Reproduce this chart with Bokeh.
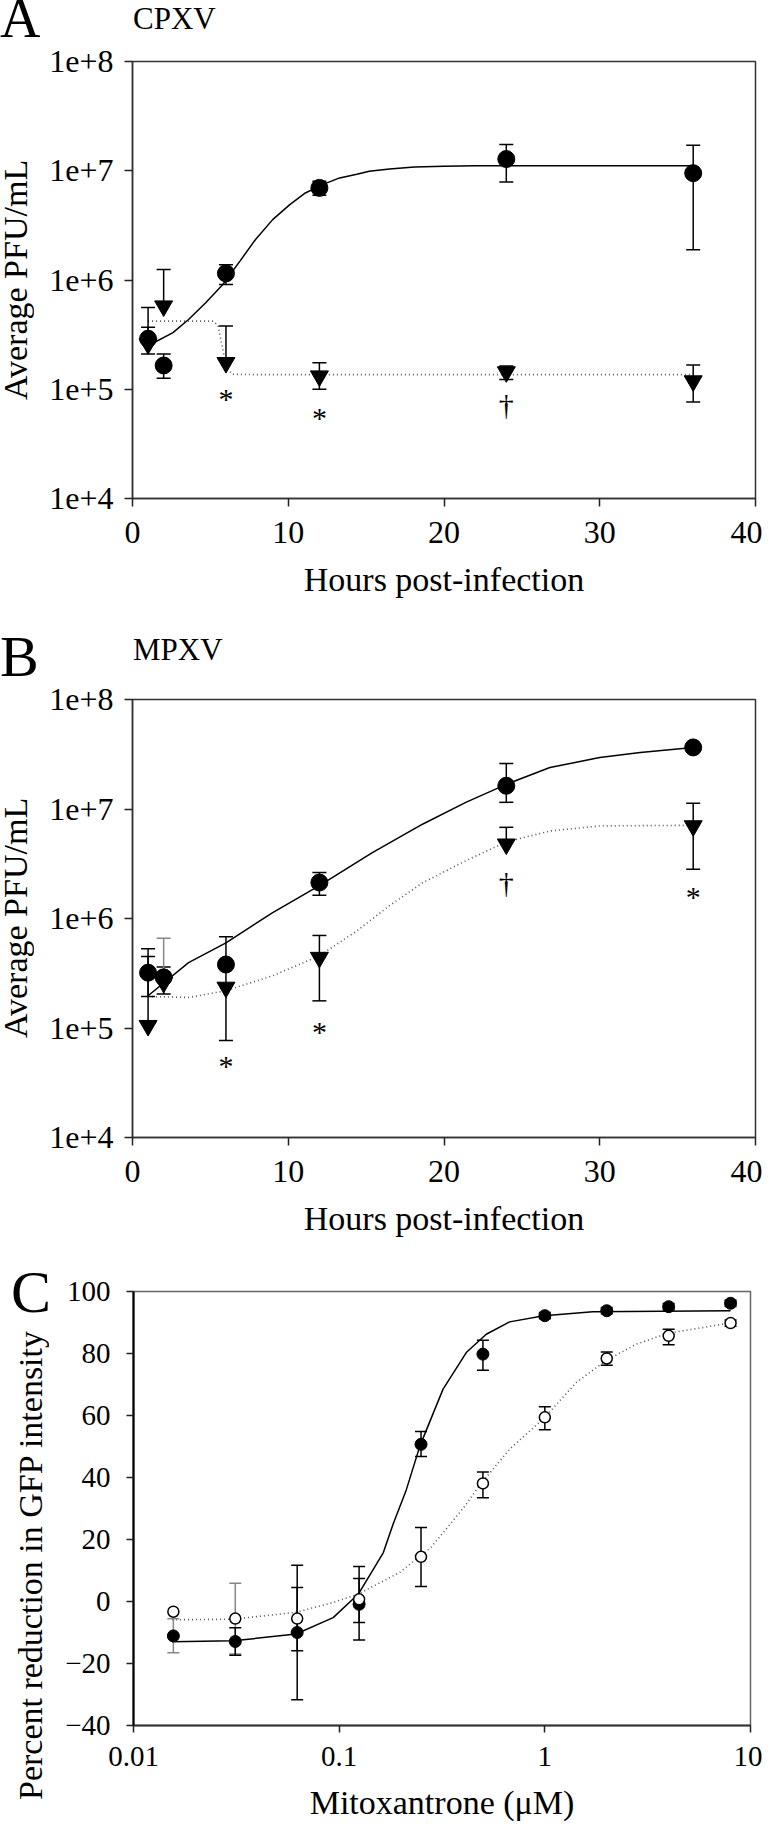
from bokeh.plotting import figure
from bokeh.layouts import column, row
from bokeh.models import FixedTicker, CustomJSTickFormatter, Range1d, Div
from bokeh.core.properties import value
from bokeh.embed import file_html
from bokeh.resources import INLINE

SERIF = "Liberation Serif"

# ---------------- Panel A : CPXV ----------------
hours = [1, 2, 6, 12, 24, 36]
a_ctrl = [2.9e5, 1.65e5, 1.15e6, 6.97e6, 1.28e7, 9.5e6]
a_ctrl_hi = [5.6e5, 2.1e5, 1.38e6, 8.0e6, 1.74e7, 1.71e7]
a_ctrl_lo = [2.1e5, 1.26e5, 9.1e5, 5.96e6, 7.9e6, 1.89e6]
a_trt = [2.6e5, 5.77e5, 1.75e5, 1.32e5, 1.44e5, 1.19e5]
a_trt_hi = [3.7e5, 1.25e6, 3.8e5, 1.75e5, 1.63e5, 1.67e5]
a_trt_lo = [2.6e5, 5.77e5, 1.75e5, 1.0e5, 1.23e5, 7.65e4]
a_fit_ctrl_t = [1, 2.6, 3.6, 4.7, 5.8, 6.9, 7.9, 9.0, 10.1, 11.1, 12.2, 13.3, 14.4, 15.2, 16.5, 18.1, 20, 22, 26, 30, 36]
a_fit_ctrl_v = [2.5e5, 3.3e5, 4.35e5, 6.2e5, 9.1e5, 1.49e6, 2.35e6, 3.57e6, 4.9e6, 6.26e6, 7.46e6,
                8.6e6, 9.3e6, 9.9e6, 1.04e7, 1.08e7, 1.10e7, 1.11e7, 1.11e7, 1.11e7, 1.11e7]
a_fit_trt_t = [1, 5.2, 5.5, 5.75, 6.0, 6.4, 8, 36]
a_fit_trt_v = [4.2e5, 4.2e5, 3.8e5, 2.5e5, 1.63e5, 1.37e5, 1.36e5, 1.36e5]
a_sig_t = [6, 12, 24]
a_sig_v = [9.3e4, 6.2e4, 7.2e4]
a_sig_txt = ["*", "*", "\u2020"]

# ---------------- Panel B : MPXV ----------------
b_ctrl = [3.2e5, 2.9e5, 3.8e5, 2.13e6, 1.63e7, 3.65e7]
b_ctrl_hi = [5.3e5, 6.6e5, 6.8e5, 2.63e6, 2.6e7, 3.9e7]
b_ctrl_lo = [1.94e5, 2.9e5, 7.7e4, 1.63e6, 1.15e7, 3.4e7]
b_trt = [1.05e5, 2.6e5, 2.35e5, 4.4e5, 4.77e6, 7.0e6]
b_trt_hi = [4.5e5, 3.6e5, 2.35e5, 7.0e5, 6.8e6, 1.13e7]
b_trt_lo = [1.05e5, 2.04e5, 2.35e5, 1.77e5, 4.77e6, 2.82e6]
b_fit_ctrl_t = [1, 3.6, 6, 9, 12, 15.4, 18.65, 21.4, 24, 26.8, 30, 32.6, 36]
b_fit_ctrl_v = [1.97e5, 3.96e5, 6.0e5, 1.13e6, 2.0e6, 4.0e6, 7.3e6, 1.15e7, 1.68e7, 2.39e7, 2.95e7, 3.28e7, 3.65e7]
b_fit_trt_t = [1, 3.6, 6, 9, 12, 14.4, 16.5, 18.65, 21.4, 24, 26.8, 30, 36]
b_fit_trt_v = [1.94e5, 1.9e5, 2.19e5, 3.0e5, 4.56e5, 7.7e5, 1.31e6, 2.13e6, 3.37e6, 5.0e6, 6.3e6, 7.0e6, 7.1e6]
b_sig_t = [6, 12, 24, 36]
b_sig_v = [5.2e4, 1.05e5, 2.14e6, 1.79e6]
b_sig_txt = ["*", "*", "\u2020", "*"]

# ---------------- Panel C : Mitoxantrone ----------------
conc = [0.015625, 0.03125, 0.0625, 0.125, 0.25, 0.5, 1, 2, 4, 8]
c_fill = [-11.1, -12.9, -10.0, -0.9, 50.7, 79.8, 92.2, 93.8, 95.1, 96.2]
c_fill_hi = [-5.6, -8.5, 4.5, 11.3, 54.8, 84.3, 93.2, 94.8, 96.1, 97.2]
c_fill_lo = [-16.5, -17.3, -31.7, -12.4, 46.8, 74.6, 91.2, 92.8, 94.1, 95.2]
c_open = [-3.3, -5.5, -5.5, 0.7, 14.4, 38.1, 59.4, 78.4, 85.7, 89.8]
c_open_hi = [-3.3, 5.9, 11.7, 7.4, 23.9, 41.8, 62.8, 80.5, 87.8, 90.8]
c_open_lo = [-3.3, -16.9, -15.9, -6.8, 4.8, 33.5, 55.4, 76.2, 82.8, 88.8]
c_fit_fill_x = [0.0154, 0.0305, 0.0617, 0.0935, 0.124, 0.164, 0.183, 0.212, 0.247, 0.320, 0.415, 0.519, 0.674, 0.989, 1.71, 8.0]
c_fit_fill_y = [-13.0, -12.7, -10.5, -5.2, 2.4, 15.8, 25.0, 36.0, 50.2, 68.5, 80.3, 86.2, 90.2, 92.2, 93.5, 93.8]
c_fit_open_x = [0.0154, 0.0305, 0.0617, 0.0935, 0.124, 0.197, 0.28, 0.40, 0.494, 0.674, 1.0, 1.42, 1.97, 2.78, 3.95, 7.89]
c_fit_open_y = [-5.9, -5.7, -3.5, -0.3, 2.4, 9.4, 17.5, 30.0, 38.4, 49.1, 59.4, 70.6, 77.6, 83.0, 86.5, 89.8]


# ---------- text holders (HTML text, placed beside / above the plots) ----------
def span(text, left, top, size, lh):
    return ('<span style="position:absolute;left:%dpx;top:%dpx;font-family:\'Liberation Serif\';'
            'font-size:%dpx;line-height:%s;white-space:nowrap;color:#000;">%s</span>'
            % (left, top, size, lh, text))


def vspan(text, cx, cy, size, h):
    w = int(round(0.9 * size))
    return ('<span style="position:absolute;display:block;left:%dpx;top:%dpx;width:%dpx;height:%dpx;'
            'writing-mode:vertical-rl;transform:rotate(180deg);text-align:center;'
            'font-family:\'Liberation Serif\';font-size:%dpx;line-height:0.9;'
            'white-space:nowrap;color:#000;">%s</span>'
            % (cx - w // 2, cy - h // 2, w, h, size, text))


def holder(w, h, parts):
    html = '<div style="position:relative;width:%dpx;height:%dpx;">%s</div>' % (w, h, "".join(parts))
    return Div(text=html, width=w, height=h, margin=0, styles={"overflow": "visible"})


def errorbars(p, x, val, hi, lo, cap, color="black"):
    colors = color if isinstance(color, list) else [color] * len(x)
    p.segment(x0=x, y0=lo, x1=x, y1=hi, line_color=colors, line_width=1.5)
    cx, cy, cc = [], [], []
    for xi, v, h, l, c in zip(x, val, hi, lo, colors):
        if h != v:
            cx.append(xi); cy.append(h); cc.append(c)
        if l != v:
            cx.append(xi); cy.append(l); cc.append(c)
    p.scatter(cx, cy, marker="dash", size=cap, line_color=cc, line_width=1.5)


def style_axes(p, tick_size, tick_out, xstand, ystand, xlab_stand):
    p.xgrid.visible = False
    p.ygrid.visible = False
    for ax in (p.xaxis[0], p.yaxis[0]):
        ax.major_tick_in = 0
        ax.major_tick_out = tick_out
        ax.minor_tick_line_color = None
        ax.major_label_text_font = SERIF
        ax.major_label_text_font_size = tick_size
        ax.major_label_text_color = "black"
        ax.major_tick_line_color = "#222222"
        ax.major_tick_line_width = 1.5
        ax.axis_label_text_font = SERIF
        ax.axis_label_text_font_size = "34px"
        ax.axis_label_text_font_style = "normal"
        ax.axis_label_text_color = "black"
    p.xaxis[0].major_label_standoff = xstand
    p.yaxis[0].major_label_standoff = ystand
    p.xaxis[0].axis_label_standoff = xlab_stand


def time_panel(height, btop, bbottom,
               ctrl, ctrl_hi, ctrl_lo, trt, trt_hi, trt_lo,
               fct, fcv, ftt, ftv, sig_t, sig_v, sig_txt, ctrl_err_color="black"):
    p = figure(width=716, height=height, x_range=Range1d(0, 40), y_range=Range1d(1e4, 1e8),
               y_axis_type="log", output_backend="svg", toolbar_location=None, title=None,
               min_border_left=86, min_border_right=7, min_border_top=btop,
               min_border_bottom=bbottom, background_fill_color="white",
               border_fill_color="white", outline_line_color="#333333", outline_line_width=1.5)
    style_axes(p, "32px", 8, 15, 11, 15)
    p.xaxis.axis_label = "Hours post-infection"
    p.xaxis.ticker = FixedTicker(ticks=[0, 10, 20, 30, 40])
    p.yaxis.ticker = FixedTicker(ticks=[1e4, 1e5, 1e6, 1e7, 1e8])
    p.yaxis.formatter = CustomJSTickFormatter(code="return '1e+' + Math.round(Math.log10(tick));")
    p.xaxis.axis_line_color = "#333333"
    p.yaxis.axis_line_color = "#333333"
    p.xaxis.axis_line_width = 1.5
    p.yaxis.axis_line_width = 1.5

    p.line(fct, fcv, line_color="black", line_width=1.5)
    p.line(ftt, ftv, line_color="#555555", line_width=1.6, line_dash="1 3")
    errorbars(p, hours, trt, trt_hi, trt_lo, 14)
    errorbars(p, hours, ctrl, ctrl_hi, ctrl_lo, 14, ctrl_err_color)
    p.scatter(hours, trt, marker="inverted_triangle", size=18, fill_color="black", line_color="black")
    p.scatter(hours, ctrl, marker="circle", size=17, fill_color="black", line_color="black")
    # asterisks sit high in the em box: nudge them down so the glyph centres on its value
    offs = [6 if s == "*" else 0 for s in sig_txt]
    p.text(sig_t, sig_v, text=sig_txt, y_offset=offs, text_font=value(SERIF), text_font_size="30px",
           text_align="center", text_baseline="middle", text_color="black")
    return p


# ----- Panel A -----
hA = holder(762, 41, [span("A", 0, 0, 56, 0.66), span("CPXV", 133, 3, 31, 1)])
lA = holder(46, 591, [vspan("Average PFU/mL", 16, 239, 34, 300)])
pA = time_panel(591, 20, 134,
                a_ctrl, a_ctrl_hi, a_ctrl_lo, a_trt, a_trt_hi, a_trt_lo,
                a_fit_ctrl_t, a_fit_ctrl_v, a_fit_trt_t, a_fit_trt_v,
                a_sig_t, a_sig_v, a_sig_txt)

# ----- Panel B -----
hB = holder(762, 48, [span("B", 0, 2, 58, 0.8), span("MPXV", 133, 2, 31, 1)])
lB = holder(46, 574, [vspan("Average PFU/mL", 16, 238, 34, 300)])
b_err_col = ["black", "#888888", "black", "black", "black", "black"]
pB = time_panel(574, 19, 117,
                b_ctrl, b_ctrl_hi, b_ctrl_lo, b_trt, b_trt_hi, b_trt_lo,
                b_fit_ctrl_t, b_fit_ctrl_v, b_fit_trt_t, b_fit_trt_v,
                b_sig_t, b_sig_v, b_sig_txt, ctrl_err_color=b_err_col)

# ----- Panel C -----
lC = holder(62, 577, [span("C", 11, 8, 60, 1),
                      vspan("Percent reduction in GFP intensity", 31, 311, 34, 500)])

pC = figure(width=700, height=577, x_range=Range1d(0.01, 10), y_range=Range1d(-40, 100),
            x_axis_type="log", output_backend="svg", toolbar_location=None, title=None,
            min_border_left=70, min_border_right=12, min_border_top=37, min_border_bottom=106,
            background_fill_color="white", border_fill_color="white",
            outline_line_color="#666666", outline_line_width=1.5)
style_axes(pC, "29px", 7, 14, 16, 15)
pC.xaxis.axis_label = "Mitoxantrone (\u03bcM)"
pC.xaxis.ticker = FixedTicker(ticks=[0.01, 0.1, 1, 10])
pC.xaxis.formatter = CustomJSTickFormatter(code="return String(tick);")
pC.yaxis.ticker = FixedTicker(ticks=[-40, -20, 0, 20, 40, 60, 80, 100])
pC.yaxis.axis_line_color = "black"
pC.yaxis.axis_line_width = 2.2
pC.xaxis.axis_line_color = "#333333"
pC.xaxis.axis_line_width = 2

pC.line(c_fit_fill_x, c_fit_fill_y, line_color="black", line_width=1.5)
pC.line(c_fit_open_x, c_fit_open_y, line_color="#555555", line_width=1.6, line_dash="1 3")
open_cols = ["#888888", "#888888"] + ["black"] * 8
fill_cols = ["#888888"] + ["black"] * 9
errorbars(pC, conc, c_open, c_open_hi, c_open_lo, 12, open_cols)
errorbars(pC, conc, c_fill, c_fill_hi, c_fill_lo, 12, fill_cols)
pC.scatter(conc, c_fill, marker="circle", size=12, fill_color="black", line_color="black")
pC.scatter(conc, c_open, marker="circle", size=11, fill_color="white", line_color="black", line_width=1.5)

layout = column(hA, row(lA, pA), hB, row(lB, pB), row(lC, pC))
open("out.html", "w").write(file_html(layout, INLINE))
